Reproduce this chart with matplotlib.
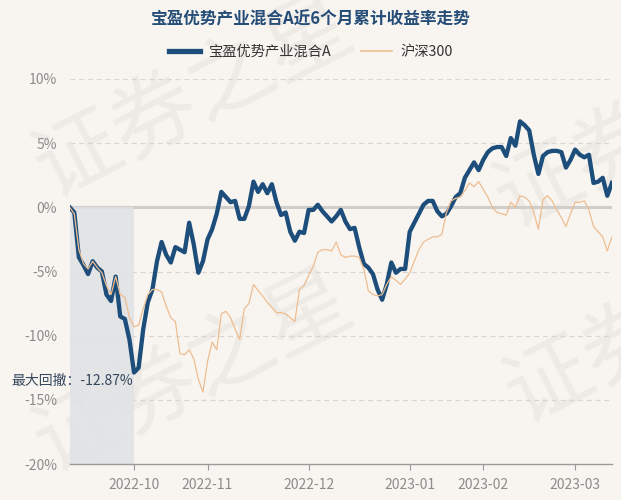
import numpy as np
import pandas as pd
import matplotlib
matplotlib.use('Agg')
import matplotlib.pyplot as plt
from matplotlib.lines import Line2D

plt.rcParams['font.family'] = ['Noto Sans CJK SC', 'DejaVu Sans']

title = '宝盈优势产业混合A近6个月累计收益率走势'
fund_name = '宝盈优势产业混合A'
index_name = '沪深300'

# 交易日 2022-09-13 ~ 2023-03-13 (去掉节假日)
holidays = ['2022-10-03', '2022-10-04', '2022-10-05', '2022-10-06', '2022-10-07',
            '2023-01-02', '2023-01-23', '2023-01-24', '2023-01-25', '2023-01-26', '2023-01-27']
dates = pd.bdate_range('2022-09-13', '2023-03-13')
dates = dates[~dates.isin(pd.to_datetime(holidays))]

# 累计收益率 (%)
fund = [0, -0.4, -3.9, -4.5, -5.2, -4.2, -4.7, -5.0, -6.8, -7.3,
        -5.4, -8.5, -8.7, -10.3, -12.87, -12.5, -9.5, -7.4, -6.4, -4.2,
        -2.7, -3.7, -4.3, -3.1, -3.3, -3.5, -1.2, -2.9, -5.1, -4.2,
        -2.5, -1.7, -0.5, 1.2, 0.8, 0.4, 0.5, -0.9, -0.9, 0.1,
        2.0, 1.2, 1.8, 1.1, 1.8, 0.4, -0.6, -0.4, -1.9, -2.6,
        -1.9, -2.0, -0.2, -0.2, 0.2, -0.3, -0.7, -1.1, -0.7, -0.2,
        -1.1, -1.7, -1.6, -3.1, -4.4, -4.7, -5.2, -6.4, -7.2, -6.0,
        -4.3, -5.1, -4.8, -4.8, -1.9, -1.2, -0.5, 0.2, 0.5, 0.5,
        -0.3, -0.7, -0.5, 0.1, 0.8, 1.1, 2.3, 2.9, 3.5, 2.9,
        3.7, 4.3, 4.6, 4.7, 4.7, 4.0, 5.4, 4.8, 6.7, 6.4,
        6.0, 4.1, 2.6, 4.0, 4.3, 4.4, 4.4, 4.3, 3.1, 3.7,
        4.5, 4.1, 3.9, 4.1, 1.9, 2.0, 2.3, 0.9, 1.9]
hs300 = [0, -0.5, -3.3, -4.4, -4.8, -4.2, -4.7, -5.1, -6.1, -6.8,
         -5.4, -6.8, -7.0, -8.6, -9.3, -9.2, -7.9, -6.8, -6.4, -6.4,
         -6.6, -7.7, -8.6, -8.9, -11.4, -11.5, -11.1, -11.8, -13.4, -14.4,
         -12.0, -10.5, -11.1, -8.3, -8.1, -8.6, -9.5, -10.3, -7.9, -7.5,
         -6.0, -6.5, -6.9, -7.4, -7.8, -8.2, -8.2, -8.3, -8.6, -8.9,
         -6.4, -6.1, -5.3, -4.6, -3.5, -3.3, -3.3, -3.4, -2.7, -3.7,
         -3.9, -3.8, -3.8, -3.9, -4.8, -6.5, -6.8, -6.9, -6.8, -6.0,
         -5.4, -5.7, -6.0, -5.6, -5.1, -4.2, -3.3, -2.7, -2.5, -2.3,
         -2.3, -2.1, -0.4, 0.5, 0.7, 0.8, 1.3, 1.9, 1.6, 2.0,
         1.4, 0.8, 0.0, -0.4, -0.5, -0.6, 0.4, 0.0, 0.9, 0.8,
         0.5, -0.4, -1.7, 0.6, 0.9, 0.5, -0.2, -0.8, -1.5, -0.5,
         0.4, 0.4, 0.5, -0.2, -1.5, -1.9, -2.3, -3.4, -2.3]
yticks = [10, 5, 0, -5, -10, -15, -20]
max_dd = -12.87

bg = '#f8f5f1'
blue = '#1d4e7b'
orange = '#eebd90'

x = np.arange(len(dates))
months = pd.Series(dates.to_period('M'))
tick_pos = [i for i in range(1, len(x)) if months[i] != months[i - 1]]
tick_lab = [dates[i].strftime('%Y-%m') for i in tick_pos]
dd_idx = int(np.argmin(fund))

fig = plt.figure(figsize=(6.21, 5), dpi=100, facecolor=bg)
ax = fig.add_axes([69.7 / 621, 36 / 500, 542.2 / 621, 385 / 500])
ax.set_facecolor('none')

# 水印 (右侧的只露出一半, 跟原图一样)
for cx, cy, s in [(194, 98, '证券之星'), (194, 373, '证券之星'),
                  (578, 168, '证券'), (588, 363, '证券')]:
    fig.text(cx / 621, 1 - cy / 500, s, fontsize=62, color='#eeebe6',
             rotation=27, ha='center', va='center', rotation_mode='anchor',
             zorder=-1, clip_on=True)

# 网格
for v in yticks:
    if v == 0:
        ax.axhline(0, color='#d0cecb', lw=2.2, zorder=1)
    elif v != -20:
        ax.axhline(v, color='#d9d6d2', lw=0.9, ls=(0, (4, 3)), zorder=1)

# 最大回撤区域
ax.fill_between([0, dd_idx], -20, 0, color='#dfe2e4', alpha=0.85, zorder=1, lw=0)

ax.plot(x, fund, color=blue, lw=3.1, zorder=3, solid_joinstyle='round')
ax.plot(x, hs300, color=orange, lw=0.9, zorder=4)

ax.text(dd_idx - 0.3, max_dd - 0.65, '最大回撤：-12.87%', ha='right', va='center',
        fontsize=10, color='#34475c', zorder=5)

ax.set_xlim(0, len(x) - 1)
ax.set_ylim(-20, 10)
ax.set_yticks(yticks)
ax.set_yticklabels([f'{v}%' for v in yticks])
ax.set_xticks(tick_pos)
ax.set_xticklabels(tick_lab)
ax.tick_params(axis='y', length=0, pad=9, labelsize=10, labelcolor='#8c8c8c')
ax.tick_params(axis='x', length=4, color='#999999', pad=6, labelsize=10, labelcolor='#8c8c8c')
for s in ['top', 'right', 'left']:
    ax.spines[s].set_visible(False)
ax.spines['bottom'].set_color('#999999')
ax.spines['bottom'].set_linewidth(1)

fig.text(0.5, 1 - 19 / 500, title, ha='center', va='center', fontsize=12,
         fontweight='bold', color='#254d77')

handles = [Line2D([], [], color=blue, lw=3.8), Line2D([], [], color=orange, lw=1.2)]
fig.legend(handles, [fund_name, index_name], loc='center', bbox_to_anchor=(0.5, 1 - 52 / 500),
           ncol=2, frameon=False, handlelength=2.2, columnspacing=2.1, handletextpad=0.55,
           prop={'size': 10.3}, labelcolor='#333333')

fig.savefig('out.png', dpi=100, facecolor=bg)
